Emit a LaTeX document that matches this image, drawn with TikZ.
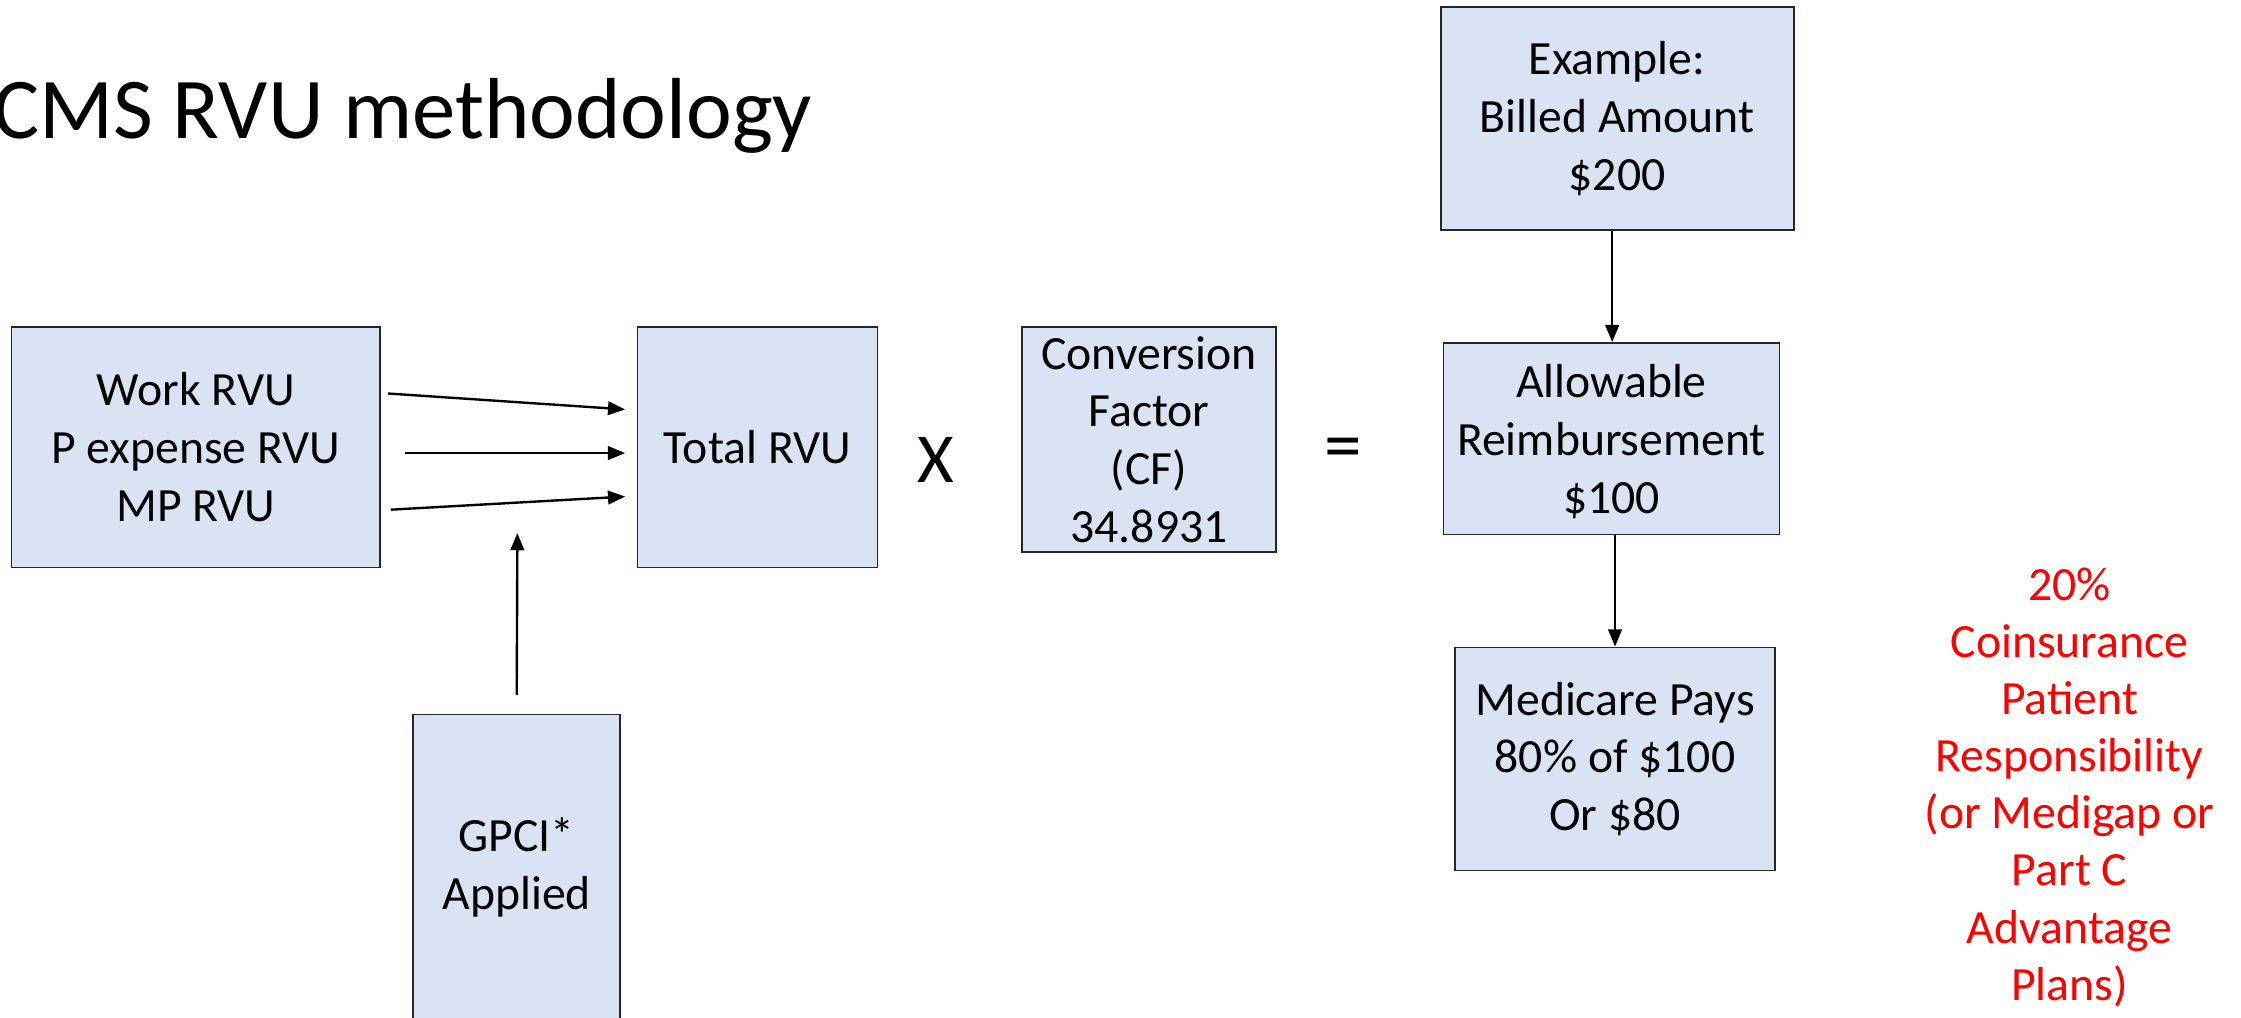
\documentclass[tikz,border=0pt]{standalone}
\usepackage{fontspec}
\setmainfont{Carlito}
\usetikzlibrary{arrows.meta}
\definecolor{boxblue}{HTML}{DAE3F3}

\begin{document}
\begin{tikzpicture}[
	box/.style={draw=black!85, fill=boxblue, line width=0.7pt, align=center, inner sep=0pt, font=\fontsize{19}{23}\selectfont},
	arr/.style={-{Triangle[length=0.24cm, width=0.19cm]}, line width=0.95pt}
]
	\useasboundingbox (0,0) rectangle (31.36,-14.24);
	
	\node[anchor=base west, font=\fontsize{34.5}{41}\selectfont, inner sep=0pt] (title) at (-0.1,-1.94) {CMS RVU methodology};
	
	\node[box, minimum width=5.16cm, minimum height=3.36cm] (work) at (2.74,-6.26) {Work RVU\\P expense RVU\\MP RVU};
	\node[box, minimum width=3.36cm, minimum height=3.36cm] (total) at (10.6,-6.26) {Total RVU};
	\node[box, minimum width=3.56cm, minimum height=3.14cm] (cf) at (16.08,-6.15) {Conversion\\Factor\\(CF)\\34.8931};
	\node[box, minimum width=2.9cm, minimum height=4.28cm] (gpci) at (7.23,-12.14) {GPCI*\\Applied};
	
	\node[font=\fontsize{28}{34}\selectfont] (times) at (13.1,-6.44) {X};
	\node[font=\fontsize{30}{36}\selectfont] (equals) at (18.8,-6.36) {=};
	
	\node[box, minimum width=4.94cm, minimum height=3.12cm] (example) at (22.63,-1.66) {Example:\\Billed Amount\\\$200};
	\node[box, minimum width=4.7cm, minimum height=2.68cm, text depth=-0.06cm] (allowable) at (22.55,-6.14) {Allowable\\Reimbursement\\\$100};
	\node[box, minimum width=4.48cm, minimum height=3.12cm] (medicare) at (22.6,-10.62) {Medicare Pays\\80\% of \$100\\Or \$80};
	
	\node[align=center, text=red, font=\fontsize{19}{22.7}\selectfont] (coins) at (28.96,-11.02) {20\%\\Coinsurance\\Patient\\Responsibility\\(or Medigap or\\Part C\\Advantage\\Plans)};
	
	\coordinate (gpcitip) at (7.24,-7.46);
	
	\draw[arr, shorten <=0.1cm, shorten >=0.16cm] ([yshift=0.76cm]work.east) -- ([yshift=0.52cm]total.west);
	\draw[arr, shorten <=0.34cm, shorten >=0.16cm] ([yshift=-0.08cm]work.east) -- ([yshift=-0.08cm]total.west);
	\draw[arr, shorten <=0.14cm, shorten >=0.16cm] ([yshift=-0.88cm]work.east) -- ([yshift=-0.68cm]total.west);
	\draw[arr, shorten <=0.26cm] (gpci.north) -- (gpcitip);
	
	\draw[arr] ([xshift=-0.07cm]example.south) -- ([xshift=-0.07cm]example.south |- allowable.north);
	\draw[arr] (allowable.south -| medicare.north) -- (medicare.north);
	
\end{tikzpicture}
\end{document}
